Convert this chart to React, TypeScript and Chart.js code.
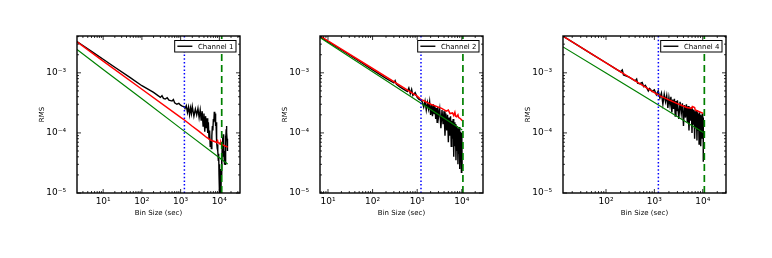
import React, { useEffect, useRef } from 'react';
import { Chart, registerables } from 'chart.js';

Chart.register(...registerables);

const FONT = "'DejaVu Sans', 'Liberation Sans', sans-serif";

// ---- shared axis data ----
const yMin = 1e-5;
const yMax = 4.1e-3;
const yTickValues = [1e-5, 1e-4, 1e-3];
const yTickLabels = ['10⁻⁵', '10⁻⁴', '10⁻³'];
const xTickValues = [10, 100, 1000, 10000];
const xTickLabels = ['10¹', '10²', '10³', '10⁴'];

const channelLabels = ['Channel 1', 'Channel 2', 'Channel 4'];
const xMins = [2.11, 6.62, 12.9];
const xMaxs = [34100, 29900, 30300];
const blueMarkX = [1250, 1217, 1210];
const greenMarkX = [11500, 10600, 10800];

// ---- Channel 1 ----
const ch1BlackX = [
  2.11, 3, 5, 10, 20, 50, 100, 200, 300, 330, 360, 400, 450, 500, 600, 650, 700, 800, 900, 1000, 1100, 1250,
  1300, 1400, 1500, 1600, 1700, 1800, 1900, 2000, 2200, 2400,
  2600, 2800, 3000, 3200, 3400, 3600, 3800, 4000, 4200, 4400,
  4600, 4800, 5000, 5200, 5400, 5600, 5800, 6000, 6200, 6400,
  6600, 6800, 7000, 7200, 7400, 7600, 7800, 8000, 8200, 8400,
  8600, 8800, 9000, 9200, 9400, 9600, 9800, 10000, 10200, 10400,
  10600, 10800, 11000, 11200, 11400, 11600, 11800, 12000, 12200, 12400,
  12600, 12800, 13000, 13200, 13400, 13600, 13800, 14000, 14200, 14400,
  14600, 14800, 15000, 15200, 15400, 15600, 15800, 16000, 16200, 16400,
];
const ch1BlackY = [
  3.3e-3, 2.85e-3, 2.28e-3, 1.68e-3, 1.24e-3, 8.3e-4, 6.1e-4, 4.72e-4, 3.9e-4, 4.15e-4, 3.75e-4, 3.66e-4, 3.85e-4, 3.52e-4, 3.39e-4, 3.6e-4, 3.17e-4, 3.0e-4, 3.1e-4, 2.9e-4, 2.8e-4, 2.72e-4,
  2.55e-4, 2.85e-4, 2.2e-4, 2.7e-4, 2.0e-4, 2.6e-4, 2.1e-4, 2.75e-4, 1.9e-4, 2.5e-4,
  2.0e-4, 2.55e-4, 1.8e-4, 2.4e-4, 1.6e-4, 2.3e-4, 1.3e-4, 2.1e-4, 1.05e-4, 1.9e-4,
  1.2e-4, 1.75e-4, 1.0e-4, 1.5e-4, 8.0e-5, 1.1e-4, 6.0e-5, 7.5e-5, 5.5e-5, 9.0e-5,
  1.3e-4, 1.1e-4, 1.7e-4, 1.5e-4, 2.25e-4, 1.6e-4, 2.1e-4, 1.3e-4, 1.5e-4, 9.0e-5,
  7.0e-5, 5.5e-5, 6.5e-5, 5.0e-5, 3.5e-5, 4.5e-5, 2.0e-5, 3.0e-5, 9.0e-6, 2.5e-5,
  6.0e-6, 1.8e-5, 5.0e-6, 2.2e-5, 4.0e-5, 2.0e-5, 6.0e-5, 4.0e-5, 8.5e-5, 5.5e-5,
  9.5e-5, 6.0e-5, 7.5e-5, 4.0e-5, 5.0e-5, 3.0e-5, 4.5e-5, 3.0e-5, 6.0e-5, 5.0e-5,
  9.0e-5, 7.0e-5, 1.15e-4, 9.0e-5, 1.3e-4, 1.0e-4, 8.0e-5, 6.5e-5, 5.5e-5, 5.0e-5,
];
const ch1RedX = [2.11, 10, 100, 1000, 1250, 2000, 3000, 4700, 5500, 6500, 7500, 8500, 9000, 9300, 10000, 10500, 11000, 11500, 13000, 16400];
const ch1RedY = [3.27e-3, 1.57e-3, 5.33e-4, 1.81e-4, 1.64e-4, 1.29e-4, 1.06e-4, 8.4e-5, 7.9e-5, 7.4e-5, 7.2e-5, 6.9e-5, 7.4e-5, 6.8e-5, 6.8e-5, 6.5e-5, 7.0e-5, 6.5e-5, 6.2e-5, 5.8e-5];
const ch1GreenX = [2.11, 10, 100, 1000, 10000, 16400];
const ch1GreenY = [2.45e-3, 1.14e-3, 3.69e-4, 1.19e-4, 3.86e-5, 3.04e-5];

// ---- Channel 2 ----
const ch2BlackX = [
  6.62, 10, 20, 50, 100, 200, 300, 320, 340, 400, 500, 600, 650, 700, 750, 800, 900, 1000, 1100, 1200,
  1300, 1400, 1500, 1600, 1700, 1800, 1900, 2000, 2100, 2200,
  2300, 2400, 2500, 2600, 2700, 2800, 2900, 3000, 3200, 3400,
  3600, 3800, 4000, 4200, 4400, 4600, 4800, 5000, 5200, 5400,
  5600, 5800, 6000, 6200, 6400, 6600, 6800, 7000, 7200, 7400,
  7600, 7800, 8000, 8200, 8400, 8600, 8800, 9000, 9200, 9400,
  9600, 9800, 10000, 10200,
];
const ch2BlackY = [
  4.0e-3, 3.3e-3, 2.4e-3, 1.56e-3, 1.12e-3, 8.1e-4, 6.8e-4, 7.4e-4, 6.5e-4, 5.9e-4, 5.3e-4, 4.9e-4, 5.6e-4, 4.5e-4, 5.3e-4, 4.2e-4, 4.7e-4, 3.9e-4, 3.6e-4, 3.5e-4,
  3.3e-4, 2.7e-4, 3.4e-4, 2.4e-4, 3.2e-4, 2.5e-4, 3.3e-4, 2.0e-4, 2.9e-4, 1.9e-4,
  3.0e-4, 2.1e-4, 2.8e-4, 1.7e-4, 2.6e-4, 1.5e-4, 2.7e-4, 1.8e-4, 2.5e-4, 1.2e-4,
  2.4e-4, 1.4e-4, 2.3e-4, 9.0e-5, 2.1e-4, 1.1e-4, 2.0e-4, 7.0e-5, 1.8e-4, 9.0e-5,
  1.9e-4, 6.0e-5, 1.6e-4, 8.0e-5, 1.7e-4, 4.0e-5, 1.5e-4, 6.0e-5, 1.4e-4, 3.5e-5,
  1.3e-4, 5.0e-5, 1.2e-4, 3.0e-5, 1.1e-4, 4.5e-5, 1.25e-4, 2.5e-5, 9.0e-5, 3.5e-5,
  1.05e-4, 2.2e-5, 1.0e-4, 2.5e-5,
];
const ch2RedX = [6.62, 10, 100, 1000, 1217, 2000, 3540, 4500, 5000, 5430, 6200, 6600, 7000, 7300, 7680, 8200, 8500, 9120, 10260];
const ch2RedY = [4.1e-3, 3.39e-3, 1.18e-3, 4.08e-4, 3.6e-4, 3.0e-4, 2.56e-4, 2.3e-4, 2.4e-4, 2.1e-4, 2.15e-4, 1.95e-4, 2.2e-4, 1.9e-4, 1.86e-4, 2.0e-4, 1.8e-4, 1.75e-4, 1.6e-4];
const ch2GreenX = [6.62, 10, 100, 1000, 10260];
const ch2GreenY = [3.88e-3, 3.18e-3, 1.045e-3, 3.44e-4, 1.12e-4];

// ---- Channel 4 ----
const ch4BlackX = [
  12.9, 20, 50, 100, 150, 200, 217, 230, 300, 400, 430, 450, 500, 560, 600, 650, 700, 750, 800, 900, 1000,
  1100, 1200, 1300, 1400, 1500, 1600, 1700, 1800, 1900, 2000,
  2100, 2200, 2300, 2400, 2500, 2600, 2700, 2800, 2900, 3000,
  3200, 3400, 3600, 3800, 4000, 4200, 4400, 4600, 4800, 5000,
  5200, 5400, 5600, 5800, 6000, 6200, 6400, 6600, 6800, 7000,
  7200, 7400, 7600, 7800, 8000, 8200, 8400, 8600, 8800, 9000,
  9200, 9400, 9600, 9800, 10000, 10200, 10280,
];
const ch4BlackY = [
  4.07e-3, 3.27e-3, 2.07e-3, 1.47e-3, 1.2e-3, 1.04e-3, 1.12e-3, 9.2e-4, 8.5e-4, 7.36e-4, 7.9e-4, 6.7e-4, 6.59e-4, 6.9e-4, 5.9e-4, 6.2e-4, 5.57e-4, 5.0e-4, 5.5e-4, 4.9e-4, 5.2e-4,
  4.3e-4, 5.0e-4, 3.8e-4, 4.6e-4, 3.0e-4, 4.4e-4, 3.3e-4, 4.2e-4, 2.6e-4, 3.9e-4,
  2.9e-4, 4.0e-4, 2.2e-4, 3.6e-4, 2.5e-4, 3.7e-4, 1.9e-4, 3.4e-4, 2.3e-4, 3.5e-4,
  1.7e-4, 3.3e-4, 2.1e-4, 3.1e-4, 1.3e-4, 2.9e-4, 1.8e-4, 3.0e-4, 1.5e-4, 2.8e-4,
  1.1e-4, 2.6e-4, 1.6e-4, 2.7e-4, 1.0e-4, 2.5e-4, 1.4e-4, 2.4e-4, 8.0e-5, 2.3e-4,
  1.2e-4, 2.4e-4, 7.5e-5, 2.2e-4, 1.1e-4, 2.1e-4, 6.5e-5, 2.2e-4, 9.0e-5, 2.0e-4,
  6.0e-5, 1.9e-4, 8.0e-5, 2.1e-4, 1.2e-4, 1.8e-4, 3.3e-5,
];
const ch4RedX = [12.9, 100, 1000, 1208, 2000, 2900, 4670, 5900, 6100, 6800, 7000, 8500, 10280];
const ch4RedY = [4.07e-3, 1.47e-3, 4.67e-4, 4.26e-4, 3.55e-4, 3.1e-4, 2.65e-4, 2.55e-4, 2.75e-4, 2.65e-4, 2.4e-4, 2.25e-4, 2.11e-4];
const ch4GreenX = [12.9, 100, 1000, 10280];
const ch4GreenY = [2.7e-3, 9.9e-4, 3.2e-4, 1.02e-4];

const blackXs = [ch1BlackX, ch2BlackX, ch4BlackX];
const blackYs = [ch1BlackY, ch2BlackY, ch4BlackY];
const redXs = [ch1RedX, ch2RedX, ch4RedX];
const redYs = [ch1RedY, ch2RedY, ch4RedY];
const greenXs = [ch1GreenX, ch2GreenX, ch4GreenX];
const greenYs = [ch1GreenY, ch2GreenY, ch4GreenY];

// ---- layout ----
const PLOT_LEFTS = [77, 320, 563];
const PLOT_TOP = 36;
const PLOT_BOTTOM = 193;
const PLOT_W = 163;
const Y_AXIS_W = 39;
const X_AXIS_H = 24;
const RIGHT_PAD = 10;
const CANVAS_W = Y_AXIS_W + PLOT_W + RIGHT_PAD;
const CANVAS_H = 258;

const pts = (xs: number[], ys: number[]) => xs.map((x, i) => ({ x, y: ys[i] }));

const labelFor = (v: number, vals: number[], labels: string[]) => {
  const i = vals.findIndex((t) => Math.abs(Math.log10(t) - Math.log10(v)) < 1e-6);
  return i >= 0 ? labels[i] : '';
};

const minorValues = (min: number, max: number) => {
  const out: { v: number; major: boolean }[] = [];
  for (let d = Math.floor(Math.log10(min)); d <= Math.ceil(Math.log10(max)); d++) {
    for (let k = 1; k <= 9; k++) {
      const v = k * Math.pow(10, d);
      if (v >= min * 0.9999 && v <= max * 1.0001) out.push({ v, major: k === 1 });
    }
  }
  return out;
};

const framePlugin = {
  id: 'mplFrame',
  afterDatasetsDraw(chart: any) {
    const { ctx, chartArea: a, scales } = chart;
    const xs = scales.x;
    const ys = scales.y;
    ctx.save();
    ctx.strokeStyle = '#000';
    ctx.lineWidth = 0.8;
    ctx.beginPath();
    for (const t of minorValues(xs.min, xs.max)) {
      const p = xs.getPixelForValue(t.v);
      const len = t.major ? 4 : 2;
      ctx.moveTo(p, a.bottom);
      ctx.lineTo(p, a.bottom - len);
      ctx.moveTo(p, a.top);
      ctx.lineTo(p, a.top + len);
    }
    for (const t of minorValues(ys.min, ys.max)) {
      const p = ys.getPixelForValue(t.v);
      const len = t.major ? 4 : 2;
      ctx.moveTo(a.left, p);
      ctx.lineTo(a.left + len, p);
      ctx.moveTo(a.right, p);
      ctx.lineTo(a.right - len, p);
    }
    ctx.stroke();
    ctx.lineWidth = 1.4;
    ctx.strokeRect(a.left, a.top, a.right - a.left, a.bottom - a.top);
    ctx.restore();
  },
  afterDraw(chart: any) {
    const { ctx, chartArea: a } = chart;
    const label = chart.data.datasets[0].label as string;
    ctx.save();
    ctx.font = `7px ${FONT}`;
    const tw = ctx.measureText(label).width;
    const h = 11.5;
    const padL = 2.7;
    const lineLen = 15;
    const gap = 5.6;
    const padR = 2.6;
    const w = padL + lineLen + gap + tw + padR;
    const x1 = a.right - 4 - w;
    const y1 = a.top + 4.5;
    ctx.fillStyle = '#fff';
    ctx.fillRect(x1, y1, w, h);
    ctx.strokeStyle = '#000';
    ctx.lineWidth = 1;
    ctx.strokeRect(x1, y1, w, h);
    ctx.beginPath();
    ctx.lineWidth = 1.4;
    ctx.moveTo(x1 + padL, y1 + h / 2);
    ctx.lineTo(x1 + padL + lineLen, y1 + h / 2);
    ctx.stroke();
    ctx.fillStyle = '#000';
    ctx.textBaseline = 'middle';
    ctx.textAlign = 'left';
    ctx.fillText(label, x1 + padL + lineLen + gap, y1 + h / 2 + 0.5);
    ctx.restore();
  },
};

function Panel({ idx }: { idx: number }) {
  const ref = useRef<HTMLCanvasElement>(null);
  useEffect(() => {
    const canvas = ref.current;
    if (!canvas) return;
    const chart = new Chart(canvas, {
      type: 'line',
      data: {
        datasets: [
          {
            label: channelLabels[idx],
            data: pts(blackXs[idx], blackYs[idx]),
            borderColor: '#000000',
            borderWidth: 1.4,
            pointRadius: 0,
            clip: 0,
            order: 5,
          },
          {
            label: 'red',
            data: pts(redXs[idx], redYs[idx]),
            borderColor: '#ff0000',
            borderWidth: 1.5,
            pointRadius: 0,
            clip: 0,
            order: 4,
          },
          {
            label: 'green',
            data: pts(greenXs[idx], greenYs[idx]),
            borderColor: '#008000',
            borderWidth: 1.2,
            pointRadius: 0,
            clip: 0,
            order: 3,
          },
          {
            label: 'blue marker',
            data: [
              { x: blueMarkX[idx], y: yMin },
              { x: blueMarkX[idx], y: yMax },
            ],
            borderColor: '#0000ff',
            borderWidth: 1.5,
            borderDash: [1.5, 2.2],
            pointRadius: 0,
            clip: 0,
            order: 2,
          },
          {
            label: 'green marker',
            data: [
              { x: greenMarkX[idx], y: yMin },
              { x: greenMarkX[idx], y: yMax },
            ],
            borderColor: '#008000',
            borderWidth: 1.7,
            borderDash: [7, 4],
            pointRadius: 0,
            clip: 0,
            order: 1,
          },
        ],
      },
      options: {
        animation: false,
        responsive: false,
        devicePixelRatio: 1,
        events: [],
        layout: {
          padding: { left: 0, right: RIGHT_PAD, top: PLOT_TOP, bottom: CANVAS_H - PLOT_BOTTOM - X_AXIS_H },
        },
        plugins: {
          legend: { display: false },
          tooltip: { enabled: false },
        },
        scales: {
          x: {
            type: 'logarithmic',
            bounds: 'data',
            min: xMins[idx],
            max: xMaxs[idx],
            afterBuildTicks: (s: any) => {
              s.ticks = xTickValues.filter((v) => v >= s.min && v <= s.max).map((v) => ({ value: v, major: true }));
            },
            afterFit: (s: any) => {
              s.height = X_AXIS_H;
            },
            grid: { display: false, drawTicks: false },
            border: { display: false },
            ticks: {
              autoSkip: false,
              maxRotation: 0,
              minRotation: 0,
              padding: 3,
              color: '#000',
              font: { family: FONT, size: 9 },
              callback: (v: any) => labelFor(Number(v), xTickValues, xTickLabels),
            },
            title: {
              display: true,
              text: 'Bin Size (sec)',
              color: '#000',
              font: { family: FONT, size: 7 },
              padding: 0,
            },
          },
          y: {
            type: 'logarithmic',
            bounds: 'data',
            min: yMin,
            max: yMax,
            afterBuildTicks: (s: any) => {
              s.ticks = yTickValues.map((v) => ({ value: v, major: true }));
            },
            afterFit: (s: any) => {
              s.width = Y_AXIS_W;
            },
            grid: { display: false, drawTicks: false },
            border: { display: false },
            ticks: {
              autoSkip: false,
              padding: 11,
              color: '#000',
              font: { family: FONT, size: 9 },
              callback: (v: any) => labelFor(Number(v), yTickValues, yTickLabels),
            },
            title: {
              display: true,
              text: 'RMS',
              color: '#000',
              font: { family: FONT, size: 7 },
              padding: 0,
            },
          },
        },
      } as any,
      plugins: [framePlugin],
    });
    return () => chart.destroy();
  }, [idx]);
  return (
    <canvas
      ref={ref}
      width={CANVAS_W}
      height={CANVAS_H}
      style={{
        position: 'absolute',
        left: PLOT_LEFTS[idx] - Y_AXIS_W,
        top: 0,
        width: CANVAS_W,
        height: CANVAS_H,
      }}
    />
  );
}

export default function App() {
  return (
    <div
      style={{
        position: 'absolute',
        left: 0,
        top: 0,
        width: 772,
        height: 258,
        background: '#ffffff',
        overflow: 'hidden',
      }}
    >
      <Panel idx={0} />
      <Panel idx={1} />
      <Panel idx={2} />
    </div>
  );
}
